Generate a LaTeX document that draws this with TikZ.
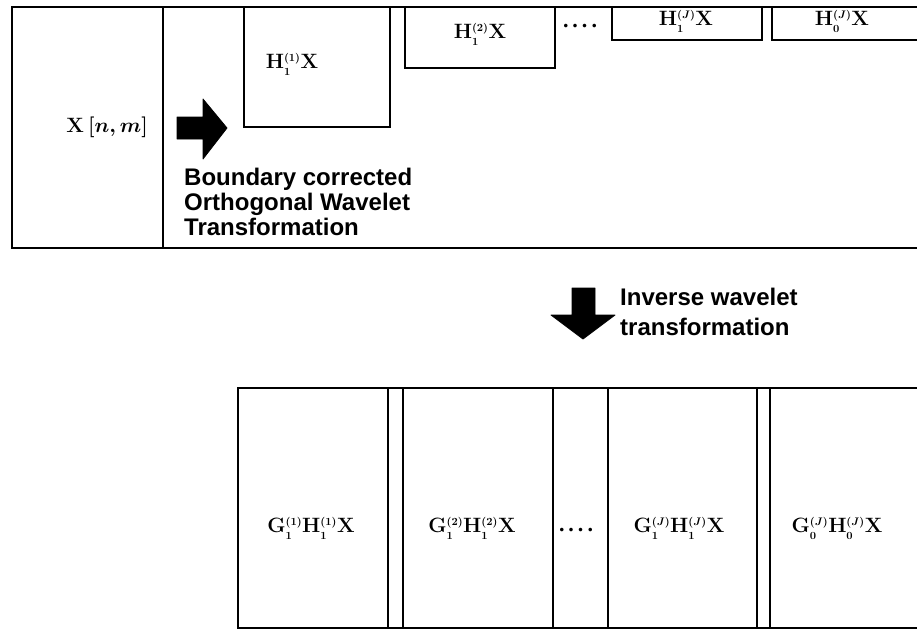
\documentclass[tikz,border=0pt]{standalone}
\usepackage{amsmath, amssymb}
\usepackage{fontspec}
\setmainfont{Liberation Serif}
\newfontfamily\arialfont{Liberation Sans}
\usepackage{tikz}
\newcommand{\sx}[1]{{\scriptscriptstyle #1}}

\begin{document}
\begin{tikzpicture}[x=1pt,y=-1pt,
    frame/.style={line width=1.6pt},
    mathlbl/.style={font=\fontsize{22}{24}\selectfont\boldmath, inner sep=0pt},
    captiontxt/.style={font=\fontsize{24}{25}\selectfont\arialfont\bfseries, align=left, inner sep=0pt},
    blockarrow/.style={fill=black, draw=black, line width=0.8pt, line join=round}]
    \useasboundingbox (0,0) rectangle (917,635);

    % Input signal and first level decomposition
    \draw[frame] (917,7) -- (12,7) -- (12,248) -- (917,248);
    \draw[frame] (163,7) -- (163,248);
    \draw[frame] (244,7) -- (244,127) -- (390,127) -- (390,7);
    \draw[frame] (405,7) -- (405,68) -- (555,68) -- (555,7);
    \draw[frame] (612,7) -- (612,40) -- (762,40) -- (762,7);
    \draw[frame] (772,7) -- (772,40) -- (917,40);

    \node[mathlbl, anchor=east] (xin) at (148,127) {$\mathbf{X}\,[\boldsymbol{n}, \boldsymbol{m}]$};
    \node[mathlbl] (h1) at (292,64) {$\mathbf{H}_\sx{1}^\sx{(1)}\mathbf{X}$};
    \node[mathlbl] (h2) at (480,34) {$\mathbf{H}_\sx{1}^\sx{(2)}\mathbf{X}$};
    \node[mathlbl] (hj) at (686,21) {$\mathbf{H}_\sx{1}^\sx{(J)}\mathbf{X}$};
    \node[mathlbl] (h0) at (842,21) {$\mathbf{H}_\sx{0}^\sx{(J)}\mathbf{X}$};
    \node[anchor=base, inner sep=0pt, font=\fontsize{22}{24}\selectfont\bfseries] (topdots) at (580,27) {.\hspace{4pt}.\hspace{4pt}.\hspace{4pt}.};

    % Forward transform arrow
    \draw[blockarrow] (177,117) -- (203,117) -- (203,99) -- (227,128)
        -- (203,159) -- (203,139) -- (177,139) -- cycle;
    \node[captiontxt, anchor=north west] (fwd) at (184,168)
        {Boundary corrected\\Orthogonal Wavelet\\Transformation};

    % Inverse transform arrow
    \draw[blockarrow] (572,288) -- (595,288) -- (595,315) -- (615,315) -- (583,339)
        -- (551,315) -- (572,315) -- cycle;
    \node[captiontxt, anchor=north west, font=\fontsize{24}{30}\selectfont\arialfont\bfseries] (inv) at (620,288)
        {Inverse wavelet\\transformation};

    % Reconstructed components
    \draw[frame] (917,388) -- (238,388) -- (238,628) -- (917,628);
    \draw[frame] (388,388) -- (388,628);
    \draw[frame] (403,388) -- (403,628);
    \draw[frame] (553,388) -- (553,628);
    \draw[frame] (608,388) -- (608,628);
    \draw[frame] (757,388) -- (757,628);
    \draw[frame] (770,388) -- (770,628);

    \node[mathlbl] (g1) at (311,528) {$\mathbf{G}_\sx{1}^\sx{(1)}\mathbf{H}_\sx{1}^\sx{(1)}\mathbf{X}$};
    \node[mathlbl] (g2) at (472,528) {$\mathbf{G}_\sx{1}^\sx{(2)}\mathbf{H}_\sx{1}^\sx{(2)}\mathbf{X}$};
    \node[mathlbl] (gj) at (679,528) {$\mathbf{G}_\sx{1}^\sx{(J)}\mathbf{H}_\sx{1}^\sx{(J)}\mathbf{X}$};
    \node[mathlbl] (g0) at (837,528) {$\mathbf{G}_\sx{0}^\sx{(J)}\mathbf{H}_\sx{0}^\sx{(J)}\mathbf{X}$};
    \node[anchor=base, inner sep=0pt, font=\fontsize{22}{24}\selectfont\bfseries] (lowdots) at (576,531) {.\hspace{4pt}.\hspace{4pt}.\hspace{4pt}.};
\end{tikzpicture}
\end{document}
